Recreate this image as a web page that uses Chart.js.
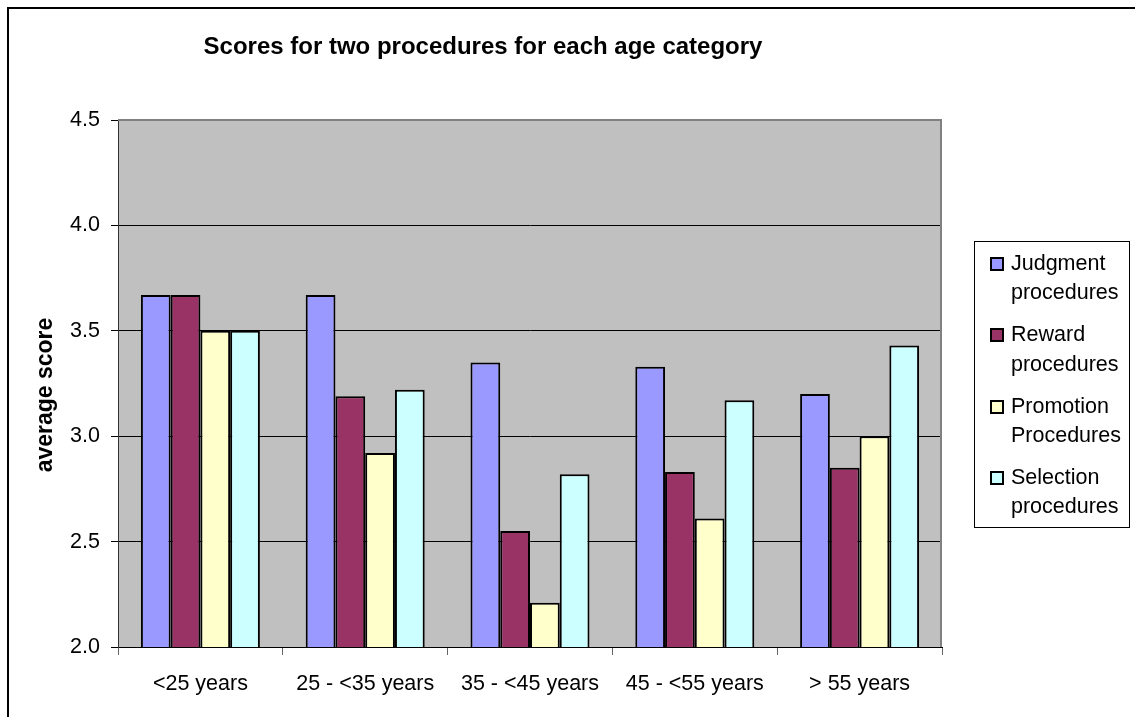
<!DOCTYPE html>
<html>
<head>
<meta charset="utf-8">
<script src="https://cdn.jsdelivr.net/npm/chart.js@4/dist/chart.umd.min.js"></script>
<style>
  html, body { margin: 0; padding: 0; background: #fff; overflow: hidden; }
  #wrap { width: 1135px; height: 717px; position: relative; }
</style>
</head>
<body>
<div id="wrap"><canvas id="c" width="1135" height="717"></canvas></div>
<script>
// Age categories along the x axis
const ageGroups = ['<25 years', '25 - <35 years', '35 - <45 years', '45 - <55 years', '> 55 years'];

// Average score per procedure
const judgment  = [3.67, 3.67, 3.35, 3.33, 3.20];
const reward    = [3.67, 3.19, 2.55, 2.83, 2.85];
const promotion = [3.50, 2.92, 2.21, 2.61, 3.00];
const selection = [3.50, 3.22, 2.82, 3.17, 3.43];

// Value axis ticks
const yTicks = [2.0, 2.5, 3.0, 3.5, 4.0, 4.5];

// Legend entries (two lines each)
const judgmentName  = ['Judgment', 'procedures'];
const rewardName    = ['Reward', 'procedures'];
const promotionName = ['Promotion', 'Procedures'];
const selectionName = ['Selection', 'procedures'];

const chartTitle = 'Scores for two procedures for each age category';
const yTitle = 'average score';

const FONT = '"Liberation Sans", Arial, Helvetica, sans-serif';

const PLOT = { left: 118, top: 120, right: 942, bottom: 647 };

const decor = {
  id: 'decor',
  beforeDraw(chart) {
    const { ctx, chartArea: a } = chart;
    ctx.save();
    ctx.fillStyle = '#fff';
    ctx.fillRect(0, 0, chart.width, chart.height);
    // outer frame (runs off the right and bottom edges)
    ctx.fillStyle = '#000';
    ctx.fillRect(7, 7, chart.width, 2);
    ctx.fillRect(7, 7, 2, chart.height);
    // plot background
    ctx.fillStyle = '#c0c0c0';
    ctx.fillRect(a.left, a.top, a.right - a.left, a.bottom - a.top);
    ctx.restore();
  },
  beforeDatasetsDraw(chart) {
    const { ctx, chartArea: a } = chart;
    ctx.save();
    ctx.strokeStyle = '#808080';
    ctx.lineWidth = 2;
    ctx.beginPath();
    ctx.moveTo(a.left, a.top);
    ctx.lineTo(a.right - 1, a.top);
    ctx.lineTo(a.right - 1, a.bottom);
    ctx.stroke();
    ctx.restore();
  },
  afterDraw(chart) {
    const { ctx } = chart;
    ctx.save();
    ctx.fillStyle = '#000';
    ctx.textBaseline = 'middle';

    // title
    ctx.font = 'bold 24px ' + FONT;
    ctx.textAlign = 'center';
    ctx.fillText(chartTitle, 483, 47);

    // value axis title
    ctx.save();
    ctx.translate(46, 395);
    ctx.rotate(-Math.PI / 2);
    ctx.font = 'bold 23px ' + FONT;
    ctx.fillText(yTitle, 0, 0);
    ctx.restore();

    // legend
    const bx = 974.5, by = 241.5, bw = 155, bh = 286;
    ctx.strokeStyle = '#000';
    ctx.lineWidth = 1;
    ctx.strokeRect(bx, by, bw, bh);
    ctx.font = '21.5px ' + FONT;
    ctx.textAlign = 'left';
    chart.data.datasets.forEach((ds, i) => {
      const cy = 264 + i * 71.3;
      const sy = Math.round(cy) - 7;
      ctx.fillStyle = ds.backgroundColor;
      ctx.fillRect(990, sy, 14, 14);
      ctx.strokeStyle = '#000';
      ctx.lineWidth = 2;
      ctx.strokeRect(991, sy + 1, 12, 12);
      ctx.fillStyle = '#000';
      ds.nameLines.forEach((line, j) => {
        ctx.fillText(line, 1011, cy + j * 29.5);
      });
    });
    ctx.restore();
  }
};

const mk = (lines, data, color) => ({
  label: lines.join(' '),
  nameLines: lines,
  data,
  backgroundColor: color,
  borderColor: '#000',
  borderWidth: 2,
  borderSkipped: 'bottom',
  categoryPercentage: 0.722,
  barPercentage: 1.0
});

new Chart(document.getElementById('c'), {
  type: 'bar',
  data: {
    labels: ageGroups,
    datasets: [
      mk(judgmentName, judgment, '#9999ff'),
      mk(rewardName, reward, '#993366'),
      mk(promotionName, promotion, '#ffffcc'),
      mk(selectionName, selection, '#ccffff')
    ]
  },
  options: {
    responsive: false,
    animation: false,
    devicePixelRatio: 1,
    layout: { padding: { left: 0, top: PLOT.top, right: 1135 - PLOT.right, bottom: 0 } },
    plugins: {
      legend: { display: false },
      title: { display: false },
      tooltip: { enabled: false }
    },
    scales: {
      x: {
        afterFit(scale) { scale.height = 717 - PLOT.bottom; },
        grid: {
          offset: true,
          drawOnChartArea: false,
          drawTicks: true,
          tickLength: 8,
          color: '#666',
          lineWidth: 1
        },
        border: { display: true, color: '#000', width: 1 },
        ticks: {
          color: '#000',
          font: { family: FONT, size: 21.5 },
          padding: 16,
          maxRotation: 0,
          autoSkip: false
        }
      },
      y: {
        min: yTicks[0],
        max: yTicks[yTicks.length - 1],
        afterFit(scale) { scale.width = PLOT.left; },
        afterBuildTicks(scale) { scale.ticks = yTicks.map(v => ({ value: v })); },
        grid: {
          color: '#000',
          lineWidth: 1,
          drawTicks: true,
          tickLength: 7
        },
        border: { display: true, color: '#333', width: 1 },
        ticks: {
          color: '#000',
          font: { family: FONT, size: 21.5 },
          padding: 11,
          callback: v => Number(v).toFixed(1)
        }
      }
    }
  },
  plugins: [decor]
});
</script>
</body>
</html>
